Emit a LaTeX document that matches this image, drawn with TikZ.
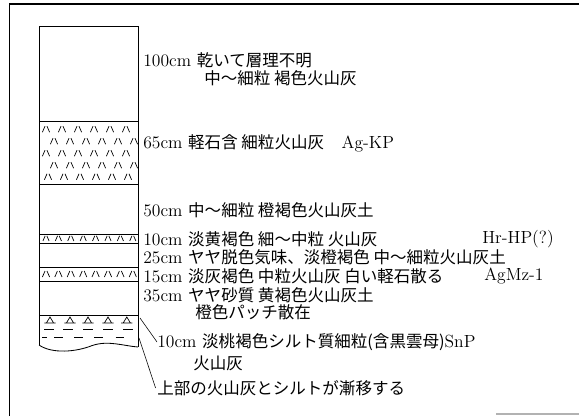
\documentclass[tikz,border=0pt]{standalone}
\usepackage{fontspec}
\newfontfamily\jp[Scale=0.94]{Noto Sans CJK JP}
\usetikzlibrary{arrows.meta, positioning, calc}

\begin{document}
\begin{tikzpicture}[
    lbl/.style={anchor=west, inner sep=0pt, font=\fontsize{12.5}{14}\selectfont},
    bed/.style={draw, line width=0.6pt},
    leader/.style={line width=0.4pt},
    pumice/.pic={\draw[line width=0.5pt] (-0.09,-0.075) -- (-0.025,0.075) (0.025,0.075) -- (0.09,-0.075);},
    ash/.pic={\draw[line width=0.5pt] (-0.085,0.01) -- (0,0.15) -- (0.085,0.01) (-0.14,0) -- (0.14,0);},
]
\useasboundingbox (0,0) rectangle (14.475,-10.4);

% outer frame
\draw[line width=1pt] (0.24,-10.4) -- (0.24,-0.1) -- (14.475,-0.1);
\draw[gray!60, line width=1pt] (12.4,-10.35) -- (14.475,-10.35);

% column outline and bed boundaries
\draw[bed] (0.975,-8.625) -- (0.975,-0.65) -- (3.45,-0.65) -- (3.45,-8.675);
\draw[bed] (0.975,-8.625) .. controls (1.3,-8.85) and (1.9,-8.8) .. (2.3,-8.64)
    .. controls (2.7,-8.5) and (3.1,-8.65) .. (3.45,-8.675);
\foreach \y in {-3.025,-4.6,-5.85,-6.075,-6.675,-7.025,-7.875}
    \draw[bed] (0.975,\y) -- (3.45,\y);

% pumice beds
\foreach \y/\s in {-3.23/0, -3.53/0.2, -3.83/0, -4.13/0.2, -4.42/0.05}
    \foreach \i in {0,...,5}
        \pic at ({1.15+\s+0.4*\i},\y) {pumice};
\foreach \i in {0,...,7} {
    \pic[scale=0.85] at ({1.15+0.31*\i},-5.96) {pumice};
    \pic at ({1.15+0.31*\i},-6.85) {pumice};
}

% ash over silt
\foreach \x in {1.25,1.75,2.2,2.7,3.17}
    \pic at (\x,-8.075) {ash};
\foreach \x in {1.22,1.7,2.2,2.7,3.2}
    \draw[line width=0.5pt] ({\x-0.12},-8.235) -- ({\x+0.12},-8.235);
\foreach \x in {1.47,1.97,2.47,3.0}
    \draw[line width=0.5pt] ({\x-0.11},-8.43) -- ({\x+0.11},-8.43);
\draw[line width=0.5pt] (1.05,-8.43) -- (1.17,-8.43);

% descriptions
\node[lbl] (t100) at (3.575,-1.5) {100cm {\jp 乾いて層理不明}};
\node[lbl] (t100b) at (5.1,-1.95) {{\jp 中～細粒 褐色火山灰}};
\node[lbl] (t65) at (3.575,-3.575) {65cm {\jp 軽石含 細粒火山灰}\quad Ag-KP};
\node[lbl] (t50) at (3.575,-5.25) {50cm {\jp 中～細粒 橙褐色火山灰土}};
\node[lbl] (t10) at (3.575,-5.975) {10cm {\jp 淡黄褐色 細～中粒 火山灰}};
\node[lbl] (tHr) at (12.05,-5.975) {Hr-HP(?)};
\node[lbl] (t25) at (3.575,-6.425) {25cm {\jp ヤヤ脱色気味、淡橙褐色 中～細粒火山灰土}};
\node[lbl] (t15) at (3.575,-6.9) {15cm {\jp 淡灰褐色 中粒火山灰 白い軽石散る}};
\node[lbl] (tMz) at (12.1,-6.9) {AgMz-1};
\node[lbl] (t35) at (3.575,-7.375) {35cm {\jp ヤヤ砂質 黄褐色火山灰土}};
\node[lbl] (t35b) at (4.875,-7.8) {{\jp 橙色パッチ散在}};
\node[lbl] (tSnP) at (3.925,-8.55) {10cm {\jp 淡桃褐色シルト質細粒(含黒雲母)}SnP};
\node[lbl] (tSnPb) at (4.825,-9.075) {{\jp 火山灰}};
\node[lbl] (tGrad) at (3.925,-9.7) {{\jp 上部の火山灰とシルトが漸移する}};

% leaders from the bottom bed
\coordinate (s1) at (3.5,-7.95);
\coordinate (s2) at (3.475,-8.45);
\draw[leader] (s1) -- (tSnP.west);
\draw[leader] (s2) -- ([xshift=-1pt]tGrad.west);

\end{tikzpicture}
\end{document}
